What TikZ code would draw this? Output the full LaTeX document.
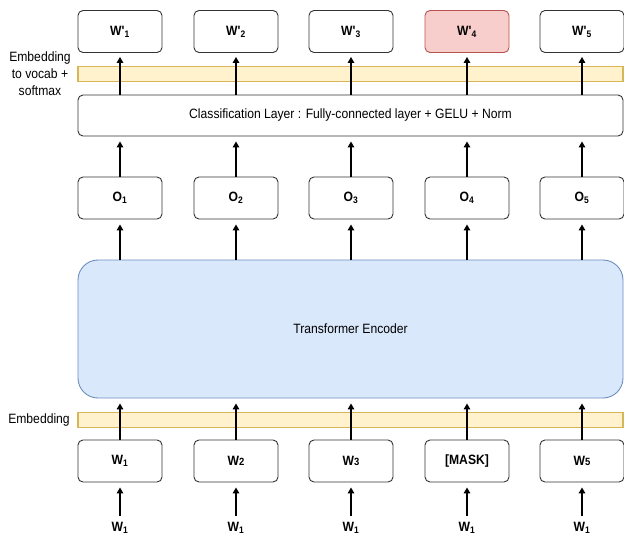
\documentclass[tikz,border=0pt]{standalone}
\usepackage{fontspec}
\setmainfont{Liberation Sans}[FakeStretch=0.9, Ligatures=TeXOff]
\usetikzlibrary{arrows.meta}

\definecolor{barfill}{HTML}{FFF2CC}
\definecolor{barline}{HTML}{D6B656}
\definecolor{encfill}{HTML}{DAE8FC}
\definecolor{encline}{HTML}{6C8EBF}
\definecolor{maskfill}{HTML}{F8CECC}
\definecolor{maskline}{HTML}{B85450}

\newcommand{\sub}[1]{\textsubscript{#1}}
\newcommand{\tick}{'}
\newcommand{\smalldigit}[1]{{\fontsize{10.5}{12}\selectfont #1}}

\begin{document}
\begin{tikzpicture}[x=1pt,y=-1pt,
  box/.style={draw=black!80, fill=white, rounded corners=5pt, line width=0.9pt,
    minimum width=84pt, minimum height=42pt, inner sep=0pt,
    font=\bfseries\fontsize{13.5}{16}\selectfont},
  bar/.style={draw=barline, fill=barfill, line width=1.6pt, inner sep=0pt,
    minimum width=545pt, minimum height=15pt},
  wide/.style={draw=black!80, fill=white, rounded corners=5pt, line width=0.9pt,
    minimum width=545pt, minimum height=41pt, inner sep=0pt,
    font=\fontsize{13.5}{16}\selectfont},
  flow/.style={line width=1.7pt, -{Triangle[length=6pt,width=6.5pt]}, shorten >=5pt},
  lbl/.style={font=\fontsize{13.5}{17}\selectfont, align=center, inner sep=0pt},
  inlbl/.style={font=\bfseries\fontsize{13.5}{16}\selectfont, inner sep=0pt}
]
\useasboundingbox (0,0) rectangle (624,541);

% bars and wide layers
\node[bar] (vocabbar) at (350.5,74) {};
\node[bar] (embbar) at (350.5,420) {};
\node[wide] (cls) at (350.5,115.5) {Classification Layer : Fully-connected layer + GELU + Norm};
\node[draw=encline, fill=encfill, rounded corners=20pt, line width=0.9pt,
  minimum width=545pt, minimum height=138pt, inner sep=0pt,
  font=\fontsize{13.5}{16}\selectfont] (enc) at (350.5,329) {Transformer Encoder};

% side labels
\node[lbl] (lvocab) at (40,74) {Embedding\\to vocab +\\softmax};
\node[lbl] (lemb) at (39,420) {Embedding};

% columns
\foreach \i/\x in {1/120,2/236,3/351,4/467,5/582}{
  \node[box] (o\i) at (\x,198) {O\sub{\i}};
  \node[inlbl] (in\i) at (\x,528) {W\sub{1}};
}
\node[box] (wp1) at (120,31.5) {W\tick\sub{1}};
\node[box] (wp2) at (236,31.5) {W\tick\sub{2}};
\node[box] (wp3) at (351,31.5) {W\tick\sub{3}};
\node[box, fill=maskfill, draw=maskline] (wp4) at (467,31.5) {W\tick\sub{4}};
\node[box] (wp5) at (582,31.5) {W\tick\sub{5}};

\node[box] (w1) at (120,461) {W\sub{1}};
\node[box] (w2) at (236,461) {W\smalldigit{2}};
\node[box] (w3) at (351,461) {W\smalldigit{3}};
\node[box] (w4) at (467,461) {[MASK]};
\node[box] (w5) at (582,461) {W\smalldigit{5}};

% arrows
\foreach \i in {1,...,5}{
  \draw[flow, shorten <=6pt] (in\i.north) -- (w\i.south);
  \draw[flow] (w\i.north) -- (w\i.north |- enc.south);
  \draw[flow] (o\i.south |- enc.north) -- (o\i.south);
  \draw[flow] (o\i.north) -- (o\i.north |- cls.south);
  \draw[flow, shorten >=4pt] (wp\i.south |- cls.north) -- (wp\i.south);
}
\end{tikzpicture}
\end{document}
